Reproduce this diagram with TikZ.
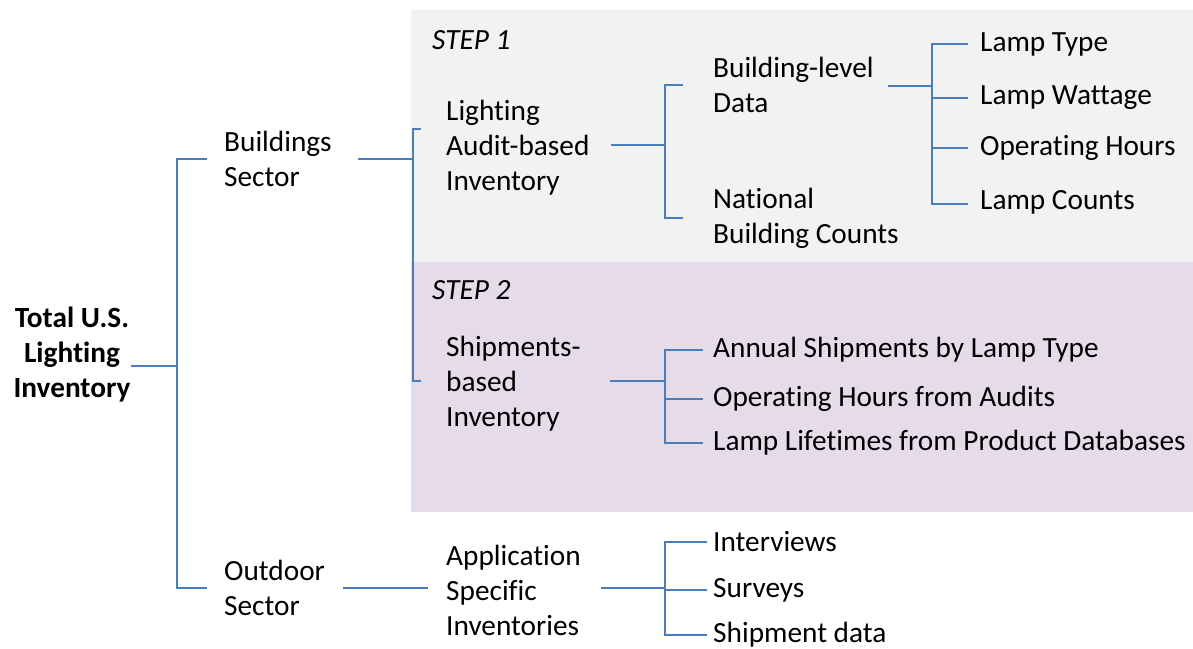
\documentclass[tikz,border=0pt]{standalone}
\usepackage{fontspec}
\setmainfont{Carlito}[Ligatures=CommonOff]
\definecolor{linkblue}{HTML}{4A7EBB}
\definecolor{stepgray}{HTML}{F2F2F2}
\definecolor{steplilac}{HTML}{E6DCE9}
\tikzset{
  link/.style={draw=linkblue, line width=1.4pt},
  txt/.style={anchor=west, align=left, inner sep=0pt, font=\fontsize{29.3}{35}\selectfont},
  steptitle/.style={anchor=west, inner sep=0pt, font=\fontsize{29.3}{35}\selectfont\itshape}
}
\begin{document}
\begin{tikzpicture}[x=1pt,y=-1pt]
		\useasboundingbox (0,0) rectangle (1193,648);
		\fill[stepgray] (411,10) rectangle (1193,262);
		\fill[steplilac] (411,262) rectangle (1193,512);
		\node[steptitle] (step1) at (432,40) {STEP 1};
		\node[steptitle] (step2) at (432,290) {STEP 2};
		\node[txt, anchor=center, align=center, font=\fontsize{29.3}{35}\selectfont\bfseries] (root) at (72,355) {Total U.S.\\Lighting\\Inventory};
		\node[txt] (bsec) at (224,159) {Buildings\\Sector};
		\node[txt] (osec) at (224,588) {Outdoor\\Sector};
		\node[txt] (audit) at (446,148) {Lighting\\Audit-based\\Inventory};
		\node[txt] (ship) at (446,384) {Shipments-\\based\\Inventory};
		\node[txt] (apps) at (446,590) {Application\\Specific\\Inventories};
		\node[txt] (bdata) at (713,85) {Building-level\\Data};
		\node[txt] (natl) at (713,218) {National\\Building Counts};
		\node[txt] (ltype) at (980,44) {Lamp Type};
		\node[txt] (lwatt) at (980,98) {Lamp Wattage};
		\node[txt] (lhrs) at (980,148) {Operating Hours};
		\node[txt] (lcnt) at (980,202) {Lamp Counts};
		\node[txt] (annual) at (713,350) {Annual Shipments by Lamp Type};
		\node[txt] (audhrs) at (713,399) {Operating Hours from Audits};
		\node[txt] (lifet) at (713,443) {Lamp Lifetimes from Product Databases};
		\node[txt] (intv) at (713,542) {Interviews};
		\node[txt] (surv) at (713,590) {Surveys};
		\node[txt] (shipd) at (713,635) {Shipment data};
		\coordinate (j0) at (177,366);
		\coordinate (j1) at (413,159);
		\coordinate (j2) at (665,145);
		\coordinate (j3) at (932,86);
		\coordinate (j4) at (665,381);
		\coordinate (j6) at (665,588);
		\draw[link] (root.east |- j0) -- (j0);
		\draw[link, shorten <=17pt, shorten >=17pt] (bsec.west) -| (j0) |- (osec.west);
		\draw[link, shorten <=26pt] (bsec.east) -- (j1);
		\draw[link, shorten <=25pt, shorten >=25pt] ([yshift=19pt]audit.west) -| (j1) |- ([yshift=3pt]ship.west);
		\draw[link, shorten <=21pt] (audit.east |- j2) -- (j2);
		\draw[link, shorten <=30pt, shorten >=30pt] (bdata.west) -| (j2) |- (natl.west);
		\draw[link, shorten <=14pt] (bdata.east |- j3) -- (j3);
		\draw[link, shorten >=12pt] (j3) |- (ltype.west);
		\draw[link, shorten >=12pt] (j3) |- (lwatt.west);
		\draw[link, shorten >=12pt] (j3) |- (lhrs.west);
		\draw[link, shorten >=12pt] (j3) |- ([yshift=-2pt]lcnt.west);
		\draw[link, shorten <=29pt] (ship.east |- j4) -- (j4);
		\draw[link, shorten >=10pt] (j4) |- (annual.west);
		\draw[link, shorten >=10pt] (j4) |- (audhrs.west);
		\draw[link, shorten >=10pt] (j4) |- (lifet.west);
		\draw[link, shorten <=18pt, shorten >=18pt] (osec.east) -- (apps.west |- osec.east);
		\draw[link, shorten <=20pt] (apps.east |- j6) -- (j6);
		\draw[link, shorten >=6pt] (j6) |- (intv.west);
		\draw[link, shorten >=6pt] (j6) |- (surv.west);
		\draw[link, shorten >=6pt] (j6) |- (shipd.west);
\end{tikzpicture}
\end{document}
